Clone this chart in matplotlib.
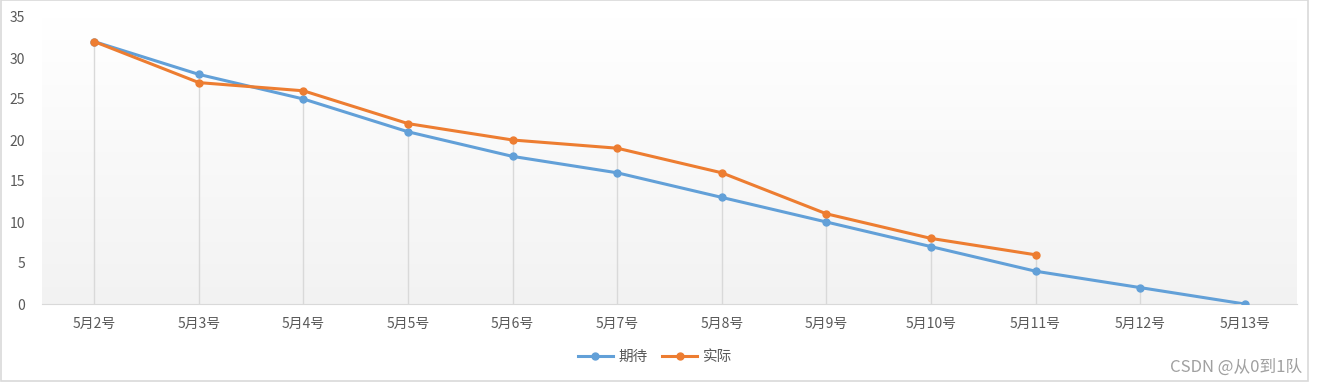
import matplotlib.pyplot as plt
import numpy as np
from matplotlib.patches import Rectangle

plt.rcParams['font.family'] = ['Noto Sans CJK SC', 'DejaVu Sans']

days = ['5月2号', '5月3号', '5月4号', '5月5号', '5月6号', '5月7号',
        '5月8号', '5月9号', '5月10号', '5月11号', '5月12号', '5月13号']
expected = [32, 28, 25, 21, 18, 16, 13, 10, 7, 4, 2, 0]
actual = [32, 27, 26, 22, 20, 19, 16, 11, 8, 6]

blue = '#62A0D8'
orange = '#ED7D31'
grey_txt = '#595959'

fig = plt.figure(figsize=(13.18, 3.83), dpi=100)
ax = fig.add_axes([42/1318, 1 - 304/383, 1255/1318, 287/383])

x = np.arange(len(days))
xa = np.arange(len(actual))

# gradient background, white at top to light grey at bottom
grad = np.linspace(1.0, 0.95, 256).reshape(-1, 1)
ax.imshow(np.dstack([grad, grad, grad]), extent=[-0.5, len(days) - 0.5, 0, 35],
          aspect='auto', origin='upper', zorder=0)

# drop lines
tops = [max(expected[i], actual[i]) if i < len(actual) else expected[i] for i in x]
ax.vlines(x, 0, tops, color='#d9d9d9', lw=1, zorder=1)

ax.plot(x, expected, color=blue, lw=2.2, marker='o', ms=5, label='期待', zorder=3)
ax.plot(xa, actual, color=orange, lw=2.2, marker='o', ms=5, label='实际', zorder=4)

ax.set_xlim(-0.5, len(days) - 0.5)
ax.set_ylim(0, 35)
ax.set_yticks(range(0, 36, 5))
ax.set_xticks(x)
ax.set_xticklabels(days)
ax.tick_params(axis='both', length=0, labelsize=10, colors=grey_txt)
ax.tick_params(axis='x', pad=9)
ax.tick_params(axis='y', pad=12)
for s in ['top', 'right', 'left']:
    ax.spines[s].set_visible(False)
ax.spines['bottom'].set_color('#d9d9d9')

leg = fig.legend(loc='center', bbox_to_anchor=(655/1318, 1 - 357/383), ncol=2,
                 frameon=False, fontsize=10.5, handlelength=2.4, columnspacing=1.0,
                 handletextpad=0.4)
for t in leg.get_texts():
    t.set_color(grey_txt)

fig.text(1302/1318, 1 - 367/383, 'CSDN @从0到1队', ha='right', va='center',
         fontsize=12, color='#a0a0a0')

fig.patches.append(Rectangle((1/1318, 2/383), 1307/1318, 1 - 2/383, transform=fig.transFigure,
                             fill=False, ec='#d9d9d9', lw=1.2))

fig.savefig('out.png', dpi=100)
